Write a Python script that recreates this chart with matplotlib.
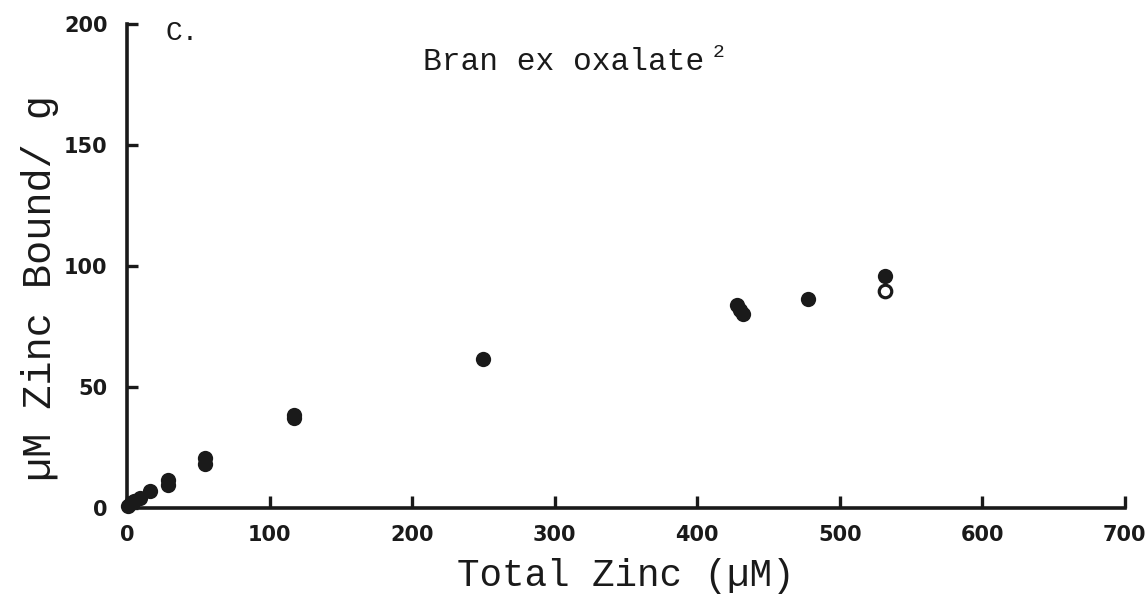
import matplotlib
matplotlib.use("Agg")
import matplotlib.pyplot as plt

# Zinc binding by bran (oxalate-extracted)
total_zinc_filled = [1, 3, 5, 9, 16, 29, 29, 55, 55, 117, 117, 250, 428, 430, 432, 478, 532]
bound_zinc_filled = [1, 2, 3, 4, 7, 9.5, 11.5, 18, 20.5, 37, 38.5, 61.6, 84, 82, 80, 86.5, 96]
total_zinc_open = [532]
bound_zinc_open = [89.7]

x_ticks = [0, 100, 200, 300, 400, 500, 600, 700]
y_ticks = [0, 50, 100, 150, 200]

mono = "Liberation Mono"
ink = "#1a1a1a"

fig = plt.figure(figsize=(11.47, 5.94), dpi=100)
ax = fig.add_axes([0.1107, 0.1448, 0.870, 0.8148])

ax.plot(total_zinc_filled, bound_zinc_filled, "o", ms=11, color=ink,
        markeredgewidth=0, clip_on=False, zorder=3)
ax.plot(total_zinc_open, bound_zinc_open, "o", ms=9, markerfacecolor="white",
        markeredgecolor=ink, markeredgewidth=2.3, clip_on=False, zorder=3)

ax.set_xlim(0, 700)
ax.set_ylim(0, 200)
ax.set_xticks(x_ticks)
ax.set_yticks(y_ticks)
ax.set_xticklabels([str(v) for v in x_ticks], fontfamily="DejaVu Sans",
                   fontweight="bold", fontsize=15)
ax.set_yticklabels([str(v) for v in y_ticks], fontfamily="DejaVu Sans",
                   fontweight="bold", fontsize=15)

for side in ("top", "right"):
    ax.spines[side].set_visible(False)
for side in ("left", "bottom"):
    ax.spines[side].set_linewidth(2.6)
    ax.spines[side].set_color(ink)

ax.tick_params(axis="x", direction="in", length=9, width=2.4, pad=12, colors=ink)
ax.tick_params(axis="y", direction="in", length=8, width=2.4, pad=14, colors=ink)

ax.set_xlabel("Total Zinc (\u00b5M)", fontfamily=mono, fontsize=27, color=ink,
              va="baseline")
ax.xaxis.set_label_coords(0.5, -0.162)
ax.set_ylabel("\u00b5M Zinc Bound/ g", fontfamily=mono, fontsize=29, color=ink)
ax.yaxis.set_label_coords(-0.068, 0.455)

ax.text(27, 201.5, "C.", fontfamily=mono, fontsize=20, va="top", ha="left",
        color=ink)
ax.text(208, 181, "Bran ex oxalate", fontfamily=mono, fontsize=22.5,
        va="baseline", ha="left", color=ink)
ax.text(411, 186.5, "2", fontfamily=mono, fontsize=14, va="baseline", ha="left",
        color=ink)

fig.savefig("out.png", dpi=100, facecolor="white")
